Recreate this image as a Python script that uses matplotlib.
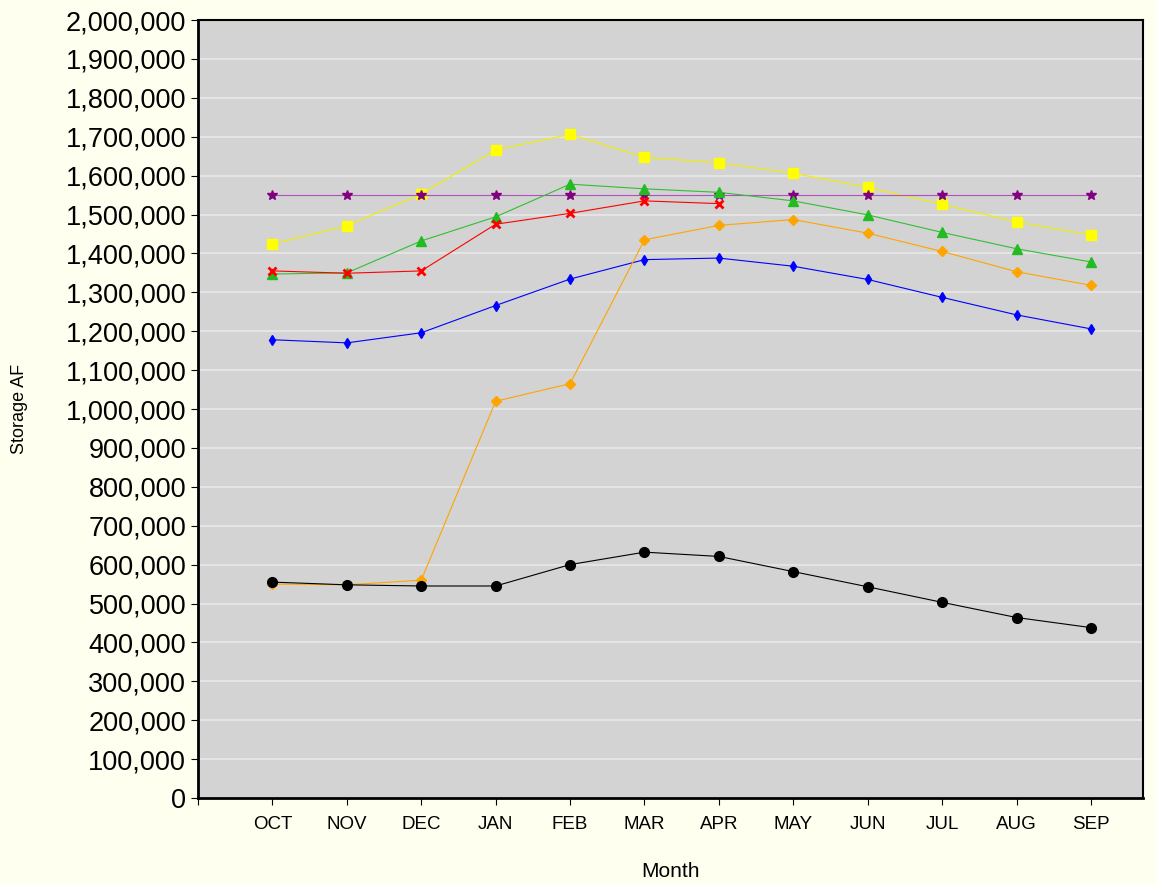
import matplotlib.pyplot as plt
from matplotlib.ticker import FuncFormatter

plt.rcParams["font.family"] = ["Liberation Sans", "DejaVu Sans"]

months = ["OCT", "NOV", "DEC", "JAN", "FEB", "MAR", "APR", "MAY", "JUN", "JUL", "AUG", "SEP"]
black = [555e3, 548e3, 545e3, 545e3, 600e3, 632e3, 621e3, 582e3, 543e3, 503e3, 464e3, 438e3]
orange = [550e3, 548e3, 560e3, 1020e3, 1065e3, 1435e3, 1472e3, 1487e3, 1452e3, 1405e3, 1353e3, 1318e3]
blue = [1178e3, 1170e3, 1196e3, 1266e3, 1334e3, 1384e3, 1388e3, 1367e3, 1333e3, 1287e3, 1242e3, 1206e3]
red = [1355e3, 1349e3, 1355e3, 1475e3, 1503e3, 1535e3, 1528e3]
green = [1347e3, 1350e3, 1432e3, 1494e3, 1578e3, 1566e3, 1557e3, 1535e3, 1499e3, 1454e3, 1412e3, 1378e3]
yellow = [1424e3, 1471e3, 1553e3, 1666e3, 1706e3, 1647e3, 1633e3, 1606e3, 1570e3, 1526e3, 1481e3, 1447e3]
purple = [1550e3] * 12

fig = plt.figure(figsize=(11.56, 8.84), dpi=100, facecolor="#FFFFF0")
ax = fig.add_axes([198 / 1156, 1 - 798 / 884, (1143 - 198) / 1156, (798 - 20) / 884])
ax.set_facecolor("#D3D3D3")

x = list(range(12))
ax.plot(x, yellow, color="#F0F000", lw=0.8, marker="s", ms=7, mfc="#FFFF00", mec="#FFFF00")
ax.plot(x, purple, color="#B050C0", lw=0.8, marker="*", ms=7, mfc="#800080", mec="#800080")
ax.plot(x, green, color="#30C030", lw=0.8, marker="^", ms=7, mfc="#22BB22", mec="#22BB22")
ax.plot(x[:len(red)], red, color="#FF0000", lw=0.8, marker="x", ms=6, mew=2)
ax.plot(x, blue, color="#0000FF", lw=0.8, marker="d", ms=5)
ax.plot(x, orange, color="#FFA500", lw=0.8, marker="D", ms=5)
ax.plot(x, black, color="black", lw=0.8, marker="o", ms=7)

ax.set_xlim(-1, 11.7)
ax.set_ylim(0, 2e6)
ax.set_yticks(range(0, 2000001, 100000))
ax.yaxis.set_major_formatter(FuncFormatter(lambda v, p: f"{int(v):,}"))
ax.set_xticks([-1] + x)
ax.set_xticklabels([""] + months)
ax.tick_params(axis="y", labelsize=19.5, length=5)
ax.tick_params(axis="x", labelsize=13.5, length=5, pad=8)
ax.grid(axis="y", color="#E8E8E8", lw=1.2)
ax.set_axisbelow(True)
for s in ax.spines.values():
    s.set_linewidth(1.5)
ax.spines["left"].set_linewidth(2)
ax.spines["bottom"].set_linewidth(2)
ax.set_ylabel("Storage AF", fontsize=13)
ax.yaxis.set_label_coords(-170 / 945, 0.5)
ax.set_xlabel("Month", fontsize=15)
ax.xaxis.set_label_coords(0.5, -64 / 778)

plt.savefig("out.png", facecolor=fig.get_facecolor())
